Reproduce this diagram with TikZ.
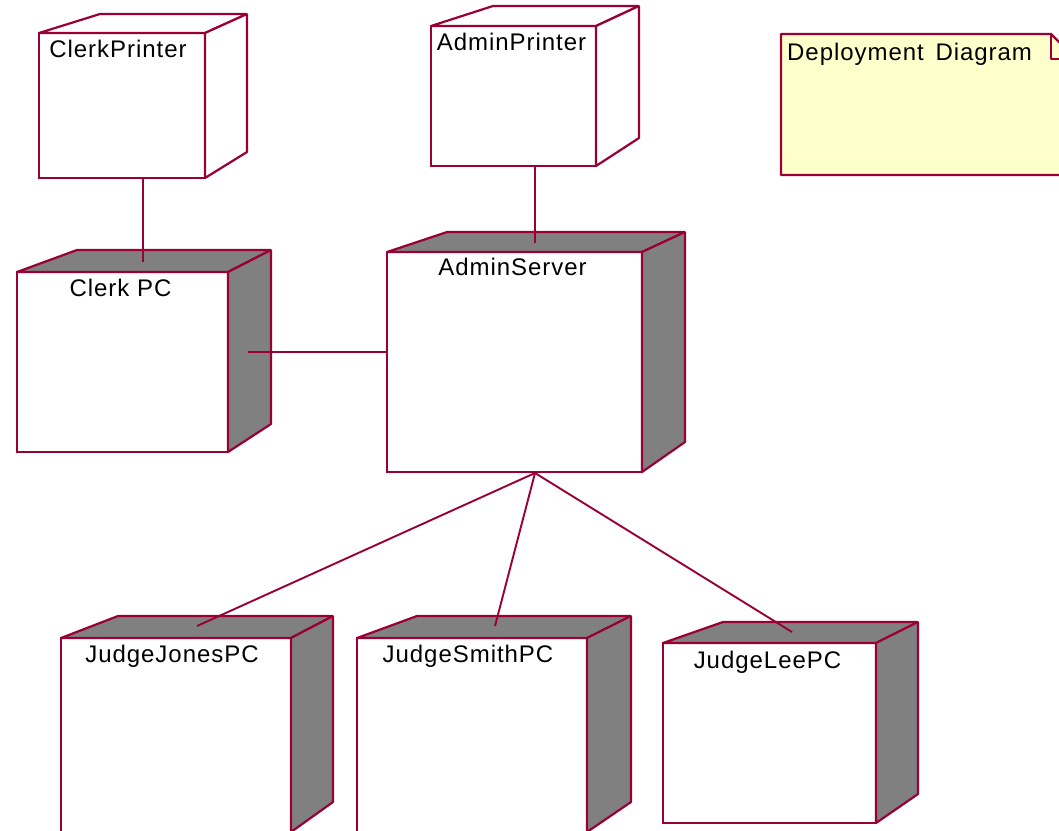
\documentclass[tikz,border=0pt]{standalone}
\usepackage{fontspec}
\setmainfont{Liberation Sans}[LetterSpace=4]
\usetikzlibrary{fit,calc}
\definecolor{crim}{HTML}{990033}
\definecolor{facegray}{HTML}{808080}
\definecolor{noteyellow}{HTML}{FFFFCC}
\tikzset{
  front/.style={draw=crim, line width=2.4pt, fill=white, rectangle, inner sep=0pt, outer sep=0pt},
  face/.style={draw=crim, line width=2.2pt, line join=bevel},
  conn/.style={draw=crim, line width=1.9pt},
  lbl/.style={font=\fontsize{24}{28}\selectfont, anchor=base, inner sep=0pt, text=black},
  hidden/.style={inner sep=0pt, outer sep=0pt}
}
\begin{document}
\begin{tikzpicture}[x=1pt,y=-1pt]
\useasboundingbox (0,0) rectangle (1059,830);
\clip (0,0) rectangle (1059,830);

% ClerkPrinter
\node[front, fit={(39,33)(205,178)}] (cprn) {};
\draw[face, fill=white] (cprn.north west) -- (100,14) -- (247,14) -- (cprn.north east) -- cycle;
\draw[face, fill=white] (cprn.north east) -- (247,14) -- (247,152) -- (cprn.south east) -- cycle;
\draw[crim, line width=2.4pt] (cprn.north east) -- (cprn.south east);
\node[lbl] (cprnT) at ($(cprn.north)+(-4,24)$) {ClerkPrinter};

% AdminPrinter
\node[front, fit={(431,26)(596,166)}] (aprn) {};
\draw[face, fill=white] (aprn.north west) -- (493,6) -- (639,6) -- (aprn.north east) -- cycle;
\draw[face, fill=white] (aprn.north east) -- (639,6) -- (639,138) -- (aprn.south east) -- cycle;
\draw[crim, line width=2.4pt] (aprn.north east) -- (aprn.south east);
\node[lbl] (aprnT) at ($(aprn.north)+(-2,24)$) {AdminPrinter};

% Clerk PC
\node[front, fit={(17,272)(228,452)}] (cpc) {};
\draw[face, fill=facegray] (cpc.north west) -- (77,250) -- (271,250) -- (cpc.north east) -- cycle;
\draw[face, fill=facegray] (cpc.north east) -- (271,250) -- (271,424) -- (cpc.south east) -- cycle;
\draw[crim, line width=2.4pt] (cpc.north east) -- (cpc.south east);
\node[lbl] (cpcT) at ($(cpc.north)+(-2,24)$) {Clerk PC};

% AdminServer
\node[front, fit={(387,252)(642,472)}] (as) {};
\draw[face, fill=facegray] (as.north west) -- (447,232) -- (685,232) -- (as.north east) -- cycle;
\draw[face, fill=facegray] (as.north east) -- (685,232) -- (685,442) -- (as.south east) -- cycle;
\draw[crim, line width=2.4pt] (as.north east) -- (as.south east);
\node[lbl] (asT) at ($(as.north)+(-2,23)$) {AdminServer};

% JudgeJonesPC
\node[front, fit={(61,638)(291,834)}] (jj) {};
\draw[face, fill=facegray] (jj.north west) -- (118,616) -- (333,616) -- (jj.north east) -- cycle;
\draw[face, fill=facegray] (jj.north east) -- (333,616) -- (333,802) -- (291,832) -- cycle;
\draw[crim, line width=2.4pt] (jj.north east) -- (jj.south east);
\node[lbl] (jjT) at ($(jj.north)+(-4,24)$) {JudgeJonesPC};

% JudgeSmithPC
\node[front, fit={(357,638)(587,834)}] (js) {};
\draw[face, fill=facegray] (js.north west) -- (417,616) -- (631,616) -- (js.north east) -- cycle;
\draw[face, fill=facegray] (js.north east) -- (631,616) -- (631,802) -- (587,832) -- cycle;
\draw[crim, line width=2.4pt] (js.north east) -- (js.south east);
\node[lbl] (jsT) at ($(js.north)+(-4,24)$) {JudgeSmithPC};

% JudgeLeePC
\node[front, fit={(663,643)(876,823)}] (jl) {};
\draw[face, fill=facegray] (jl.north west) -- (723,622) -- (918,622) -- (jl.north east) -- cycle;
\draw[face, fill=facegray] (jl.north east) -- (918,622) -- (918,794) -- (jl.south east) -- cycle;
\draw[crim, line width=2.4pt] (jl.north east) -- (jl.south east);
\node[lbl] (jlT) at ($(jl.north)+(-2,25)$) {JudgeLeePC};

% Note
\node[hidden, fit={(781,34)(1076,175)}] (note) {};
\draw[face, fill=noteyellow] (note.north west) -- ($(note.north east)+(-25,0)$) -- ($(note.north east)+(0,25)$) -- (note.south east) -- (note.south west) -- cycle;
\draw[face] ($(note.north east)+(-25,0)$) -- ($(note.north east)+(-25,25)$) -- ($(note.north east)+(0,25)$);
\node[lbl, anchor=base west] (noteT) at ($(note.north west)+(6,26)$) {Deployment\hspace{4pt} Diagram};

% Connectors
\coordinate (cpcTop) at (143,262);
\coordinate (asTop) at (535,243);
\coordinate (cpcSide) at (248,352);
\coordinate (asBot) at (535,473);
\coordinate (jjTop) at (197,626);
\coordinate (jsTop) at (495,626);
\coordinate (jlTop) at (792,632);
\draw[conn] (cpcTop |- cprn.south) -- (cpcTop);
\draw[conn] (asTop |- aprn.south) -- (asTop);
\draw[conn] (cpcSide) -- (cpcSide -| as.west);
\draw[conn] (asBot) -- (jjTop);
\draw[conn] (asBot) -- (jsTop);
\draw[conn] (asBot) -- (jlTop);
\end{tikzpicture}
\end{document}
